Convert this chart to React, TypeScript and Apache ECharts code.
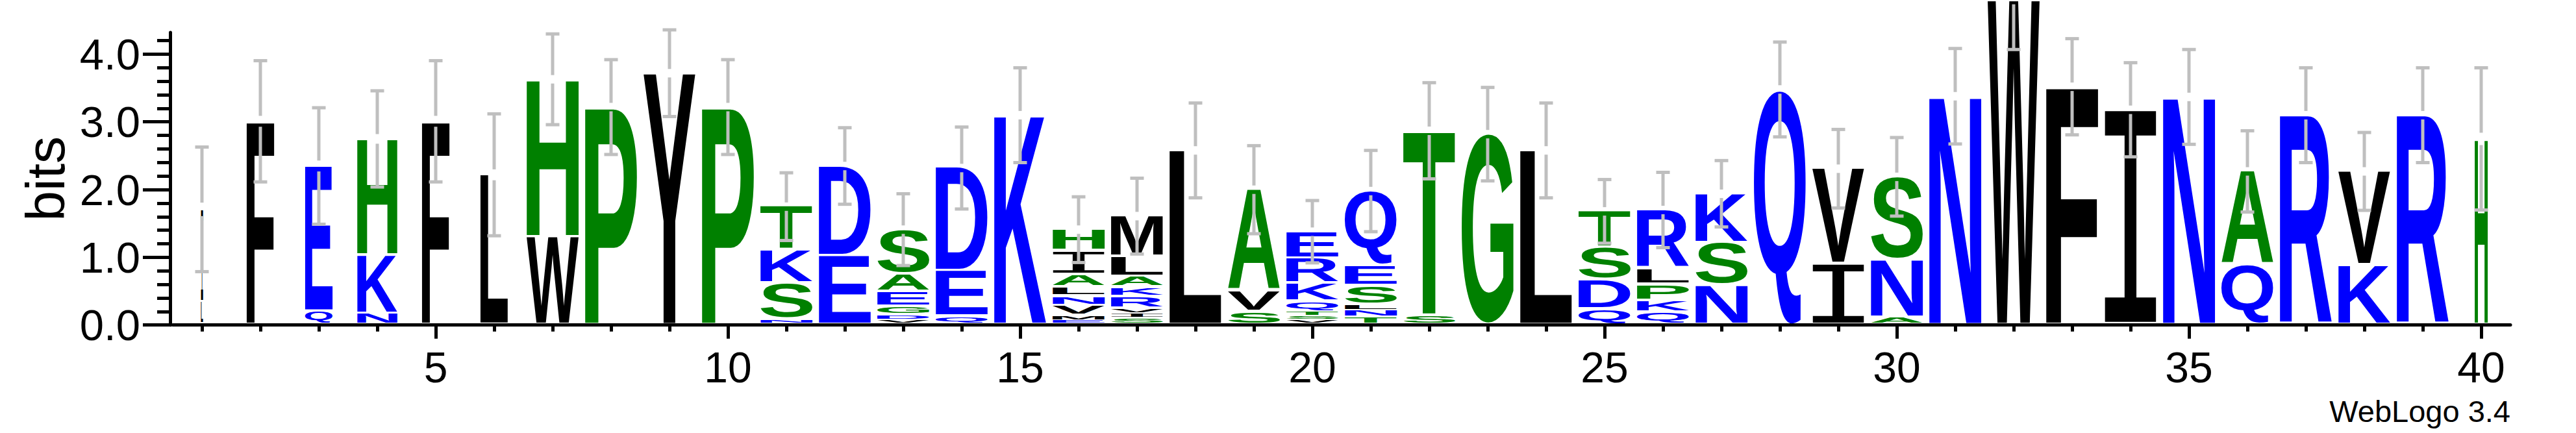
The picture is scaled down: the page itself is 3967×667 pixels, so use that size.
import React, { useEffect, useRef } from 'react';
import * as echarts from 'echarts';

// ---------------- data ----------------
const positions = [1, 2, 3, 4, 5, 6, 7, 8, 9, 10, 11, 12, 13, 14, 15, 16, 17, 18, 19, 20,
  21, 22, 23, 24, 25, 26, 27, 28, 29, 30, 31, 32, 33, 34, 35, 36, 37, 38, 39, 40];

// letters of each stack, bottom to top
const stackLetters: string[][] = [
  ['L', 'I'],
  ['F'],
  ['Q', 'E'],
  ['N', 'K', 'H'],
  ['F'],
  ['L'],
  ['W', 'H'],
  ['P'],
  ['Y'],
  ['P'],
  ['N', 'S', 'K', 'T'],
  ['E', 'D'],
  ['V', 'D', 'G', 'E', 'A', 'S'],
  ['Q', 'E', 'D'],
  ['K'],
  ['E', 'M', 'V', 'N', 'L', 'A', 'I', 'H'],
  ['S', 'I', 'V', 'R', 'K', 'A', 'L', 'M'],
  ['L'],
  ['S', 'V', 'A'],
  ['V', 'S', 'T', 'Q', 'K', 'R', 'E'],
  ['T', 'N', 'L', 'S', 'E', 'Q'],
  ['S', 'T'],
  ['G'],
  ['L'],
  ['Q', 'D', 'S', 'T'],
  ['Q', 'K', 'P', 'L', 'R'],
  ['N', 'S', 'K'],
  ['Q'],
  ['I', 'V'],
  ['A', 'N', 'S'],
  ['N'],
  ['W'],
  ['F'],
  ['I'],
  ['N'],
  ['Q', 'A'],
  ['R'],
  ['K', 'V'],
  ['R'],
  ['H'],
];

// heights (bits) of each letter, bottom to top
const stackHeights: number[][] = [
  [0.29, 1.38],
  [2.97],
  [0.16, 2.15],
  [0.13, 0.86, 1.72],
  [2.97],
  [2.18],
  [1.26, 2.33],
  [3.18],
  [3.68],
  [3.18],
  [0.04, 0.53, 0.49, 0.65],
  [0.98, 1.33],
  [0.04, 0.06, 0.13, 0.22, 0.26, 0.66],
  [0.08, 0.67, 1.53],
  [3.06],
  [0.03, 0.06, 0.15, 0.14, 0.13, 0.19, 0.35, 0.32],
  [0.06, 0.07, 0.07, 0.17, 0.14, 0.16, 0.30, 0.60],
  [2.54],
  [0.15, 0.31, 1.50],
  [0.04, 0.05, 0.06, 0.15, 0.27, 0.37, 0.40],
  [0.07, 0.10, 0.08, 0.28, 0.30, 1.11],
  [0.10, 2.73],
  [2.78],
  [2.54],
  [0.19, 0.43, 0.48, 0.54],
  [0.14, 0.17, 0.24, 0.24, 0.87],
  [0.54, 0.63, 0.73],
  [3.44],
  [0.86, 1.41],
  [0.07, 0.85, 1.23],
  [3.34],
  [4.76],
  [3.48],
  [3.14],
  [3.33],
  [0.84, 1.39],
  [3.06],
  [0.84, 1.39],
  [3.06],
  [2.71],
];

// fraction of the full stack width (columns with gaps are narrower)
const stackWidths = [0.04, 0.53, 0.53, 0.77, 0.53, 0.53, 1, 1, 1, 1,
  1, 1, 1, 1, 1, 1, 1, 1, 1, 1,
  1, 1, 1, 1, 1, 1, 1, 1, 1, 1,
  1, 1, 1, 1, 1, 1, 1, 1, 1, 0.25];

// half-length of the error bars (bits)
const errorBars = [0.92, 0.895, 0.86, 0.71, 0.895, 0.90, 0.67, 0.70, 0.64, 0.70,
  0.50, 0.565, 0.53, 0.605, 0.70, 0.485, 0.56, 0.70, 0.65, 0.46,
  0.60, 0.71, 0.69, 0.70, 0.47, 0.556, 0.49, 0.70, 0.58, 0.58,
  0.705, 0.73, 0.71, 0.695, 0.70, 0.60, 0.70, 0.575, 0.70, 1.05];

const xTickValues = positions;
const xLabelValues = [5, 10, 15, 20, 25, 30, 35, 40];
const yLabelValues = [0, 1, 2, 3, 4];
const yMinorValues = [0.2, 0.4, 0.6, 0.8, 1.2, 1.4, 1.6, 1.8, 2.2, 2.4, 2.6, 2.8,
  3.2, 3.4, 3.6, 3.8, 4.2];
const Y_MAX = 4.32;

// ---------------- styles ----------------
const BLUE = '#0000ff';
const GREEN = '#008000';
const BLACK = '#000000';
const ERR_COLOR = '#bfbfbf';
const blueSet = 'RKDENQ';
const greenSet = 'SGHTAP';
const letterColor = (l: string) => (blueSet.includes(l) ? BLUE : greenSet.includes(l) ? GREEN : BLACK);

const FS = 200;
const FONT_MAIN = 'bold 200px "Liberation Sans"';
const FONT_I = '200px "Liberation Mono"';
const STACK_FRAC = 0.89;
const BASE_LIFT = 4;
const LETTER_GAP = 4;

// baseline position (local px, relative to the text's anchor y) per font; refined from the DOM
const baselineLocal: Record<string, number> = { [FONT_MAIN]: 0.427 * FS, [FONT_I]: 0.266 * FS };

type Ink = { left: number; right: number; asc: number; desc: number };
const inkCache: Record<string, Ink> = {};
let measureCtx: CanvasRenderingContext2D | null = null;
function getCtx() {
  if (!measureCtx) {
    const c = document.createElement('canvas');
    c.width = 10; c.height = 10;
    measureCtx = c.getContext('2d');
  }
  return measureCtx;
}
function measureInk(letter: string, font: string): Ink {
  const key = font + '|' + letter;
  if (inkCache[key]) return inkCache[key];
  const ctx = getCtx();
  let ink: Ink = { left: -10, right: 140, asc: 143, desc: 0 };
  if (ctx) {
    ctx.font = font;
    ctx.textAlign = 'left';
    ctx.textBaseline = 'alphabetic';
    const m = ctx.measureText(letter);
    if (typeof m.actualBoundingBoxAscent === 'number') {
      ink = {
        left: m.actualBoundingBoxLeft,
        right: m.actualBoundingBoxRight,
        asc: m.actualBoundingBoxAscent,
        desc: m.actualBoundingBoxDescent,
      };
    }
  }
  inkCache[key] = ink;
  return ink;
}
function fontAscent(font: string, letter: string): number | null {
  const ctx = getCtx();
  if (!ctx) return null;
  ctx.font = font;
  ctx.textBaseline = 'alphabetic';
  const m: any = ctx.measureText(letter);
  return typeof m.fontBoundingBoxAscent === 'number' ? m.fontBoundingBoxAscent : null;
}

function calibrate(root: HTMLElement): boolean {
  let changed = false;
  const done: Record<string, boolean> = {};
  root.querySelectorAll('text').forEach((t: any) => {
    const s = (t.textContent || '').trim();
    if (s.length !== 1 || !/[A-Z]/.test(s)) return;
    const attr = (t.getAttribute('style') || '') + ' ' + (t.getAttribute('font-family') || '');
    const font = attr.includes('Mono') ? FONT_I : FONT_MAIN;
    if (done[font]) return;
    let bb: any = null;
    try { bb = t.getBBox(); } catch (e) { bb = null; }
    if (!bb || !(bb.height > 0)) return;
    const asc = fontAscent(font, s);
    if (asc == null) return;
    const base = bb.y + asc;
    if (base > -FS && base < FS) {
      if (Math.abs(base - baselineLocal[font]) > 0.01) changed = true;
      baselineLocal[font] = base;
      done[font] = true;
    }
  });
  return changed;
}

type Glyph = { pos: number; bottom: number; top: number; letter: string; idx: number; wf: number };
const glyphs: Glyph[] = [];
const stackTops: number[] = [];
positions.forEach((p, i) => {
  let cum = 0;
  stackLetters[i].forEach((l, j) => {
    const h = stackHeights[i][j];
    glyphs.push({ pos: p, bottom: cum, top: cum + h, letter: l, idx: j, wf: stackWidths[i] });
    cum += h;
  });
  stackTops.push(cum);
});

function buildOption() {
  const letterSeries = {
    type: 'custom',
    coordinateSystem: 'cartesian2d',
    xAxisIndex: 0,
    yAxisIndex: 0,
    clip: false,
    silent: true,
    z: 2,
    data: glyphs.map((g) => [g.pos, g.bottom, g.top]),
    renderItem: (params: any, api: any) => {
      const g = glyphs[params.dataIndex];
      const unit = api.size([1, 0])[0];
      const w = unit * STACK_FRAC * g.wf;
      const c0 = api.coord([g.pos, g.bottom]);
      const c1 = api.coord([g.pos, g.top]);
      let yb = c0[1] - BASE_LIFT;
      const yt = c1[1] - BASE_LIFT;
      if (g.idx > 0) yb -= Math.min(LETTER_GAP, 0.3 * (yb - yt));
      const hpx = yb - yt;
      if (hpx <= 0.2) return { type: 'group', children: [] };
      const font = g.letter === 'I' ? FONT_I : FONT_MAIN;
      const ink = measureInk(g.letter, font);
      const base = baselineLocal[font];
      const sx = w / (ink.left + ink.right);
      const sy = hpx / (ink.asc + ink.desc);
      return {
        type: 'text',
        x: c0[0] - w / 2 + ink.left * sx,
        y: yt - sy * (base - ink.asc),
        scaleX: sx,
        scaleY: sy,
        style: {
          text: g.letter,
          x: 0,
          y: 0,
          font,
          fill: letterColor(g.letter),
          align: 'left',
          verticalAlign: 'middle',
        },
      };
    },
  };

  const errorSeries = {
    type: 'custom',
    coordinateSystem: 'cartesian2d',
    xAxisIndex: 0,
    yAxisIndex: 0,
    clip: false,
    silent: true,
    z: 5,
    data: positions.map((p, i) => [p, stackTops[i], errorBars[i]]),
    renderItem: (params: any, api: any) => {
      const i = params.dataIndex;
      const p = positions[i];
      const top = stackTops[i];
      const err = errorBars[i];
      const wf = stackWidths[i];
      const cTop = api.coord([p, top]);
      const cx = cTop[0];
      const yTop = cTop[1] - BASE_LIFT;
      const yHi = api.coord([p, top + err])[1] - BASE_LIFT;
      const yLo = api.coord([p, top - err])[1] - BASE_LIFT;
      const gap = 6.5 + 4 * (1 - wf);
      const st = { fill: ERR_COLOR };
      return {
        type: 'group',
        children: [
          { type: 'rect', shape: { x: cx - 2.5, y: yHi, width: 5, height: Math.max(0, yTop - gap - yHi) }, style: st },
          { type: 'rect', shape: { x: cx - 2.5, y: yTop + gap, width: 5, height: Math.max(0, yLo - yTop - gap) }, style: st },
          { type: 'rect', shape: { x: cx - 10.5, y: yHi - 2.5, width: 21, height: 5 }, style: st },
          { type: 'rect', shape: { x: cx - 10.5, y: yLo - 2.5, width: 21, height: 5 }, style: st },
        ],
      };
    },
  };

  const font = 'Liberation Sans';
  return {
    animation: false,
    backgroundColor: '#ffffff',
    grid: { left: 266, right: 101, top: 50, bottom: 166.3, containLabel: false },
    xAxis: [
      {
        type: 'value', min: 0.5, max: 40.5, position: 'bottom',
        axisLine: { show: true, onZero: false, lineStyle: { color: BLACK, width: 5 } },
        axisTick: { show: true, customValues: xTickValues, length: 10, lineStyle: { color: BLACK, width: 5 } },
        axisLabel: { show: false },
        splitLine: { show: false },
      },
      {
        type: 'value', min: 0.5, max: 40.5, position: 'bottom',
        axisLine: { show: false },
        axisTick: { show: true, customValues: xLabelValues, length: 21, lineStyle: { color: BLACK, width: 5 } },
        axisLabel: {
          show: true, customValues: xLabelValues, fontSize: 66, fontFamily: font, color: BLACK, margin: 32,
        },
        splitLine: { show: false },
      },
    ],
    yAxis: [
      {
        type: 'value', min: 0, max: Y_MAX, position: 'left', offset: 4,
        name: 'bits', nameLocation: 'middle', nameGap: 149,
        nameTextStyle: { fontSize: 84, fontFamily: font, color: BLACK },
        axisLine: { show: true, lineStyle: { color: BLACK, width: 5 } },
        axisTick: { show: true, customValues: yLabelValues, length: 42, lineStyle: { color: BLACK, width: 5 } },
        axisLabel: {
          show: true, customValues: yLabelValues, fontSize: 67, fontFamily: font, color: BLACK, margin: 46,
          formatter: (v: number) => v.toFixed(1),
        },
        splitLine: { show: false },
      },
      {
        type: 'value', min: 0, max: Y_MAX, position: 'left', offset: 4,
        axisLine: { show: false },
        axisTick: { show: true, customValues: yMinorValues, length: 20, lineStyle: { color: BLACK, width: 5 } },
        axisLabel: { show: false },
        splitLine: { show: false },
      },
    ],
    graphic: [
      {
        type: 'text', x: 3866, y: 633,
        style: {
          text: 'WebLogo 3.4', font: '47px "Liberation Sans"', fill: BLACK,
          align: 'right', verticalAlign: 'middle', textAlign: 'right', textVerticalAlign: 'middle',
        },
      },
    ],
    series: [letterSeries, errorSeries],
  };
}

export default function App() {
  const ref = useRef<HTMLDivElement>(null);
  useEffect(() => {
    if (!ref.current) return;
    const chart = echarts.init(ref.current, undefined, { renderer: 'svg' });
    chart.setOption(buildOption() as any);
    try {
      if (calibrate(ref.current)) {
        chart.setOption(buildOption() as any, true);
      }
    } catch (e) {
      // keep the first render
    }
    return () => chart.dispose();
  }, []);
  return (
    <div
      ref={ref}
      style={{ position: 'fixed', left: 0, top: 0, width: 3967, height: 667, background: '#fff' }}
    />
  );
}
